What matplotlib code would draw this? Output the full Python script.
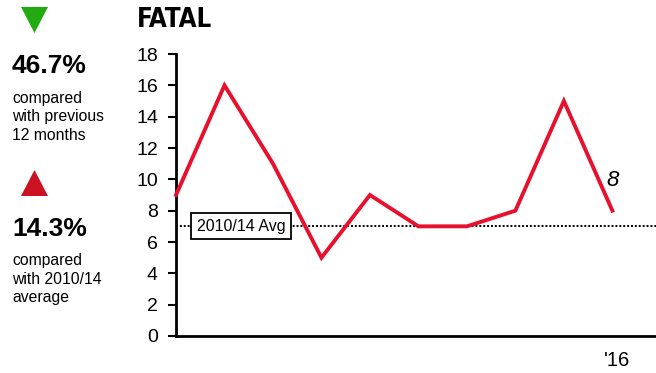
import matplotlib
matplotlib.use("Agg")
import matplotlib.pyplot as plt
from matplotlib.transforms import ScaledTranslation

# Monthly fatal counts (last 10 periods) and reference average
values = [9, 16, 11, 5, 9, 7, 7, 8, 15, 8]
avg_value = 7
avg_label = "2010/14 Avg"
year_label = "'16"
y_ticks = [0, 2, 4, 6, 8, 10, 12, 14, 16, 18]
title = "FATAL"
stat1 = "46.7%"
stat1_text = "compared\nwith previous\n12 months"
stat2 = "14.3%"
stat2_text = "compared\nwith 2010/14\naverage"

W, H = 656, 373
fig = plt.figure(figsize=(W / 100, H / 100), dpi=100)

# main axes: left 176px, bottom 336px, top 54px, right edge of figure
ax = fig.add_axes([176 / W, 1 - 336 / H, (W - 176) / W, (336 - 54) / H])
x = list(range(len(values)))
ax.plot(x, values, color="#e8112d", lw=2.8, solid_joinstyle="miter", clip_on=False, zorder=3)
ax.axhline(avg_value, color="black", lw=1.4, ls=(0, (1, 1.0)), zorder=2)
ax.set_xlim(0, 9.9)
ax.set_ylim(0, 18)
ax.set_yticks(y_ticks)
ax.set_yticklabels([str(t) for t in y_ticks], fontsize=14, fontfamily="Liberation Sans")
ax.set_xticks([len(values) - 1])
ax.set_xticklabels([year_label], fontsize=14.5, fontfamily="Liberation Sans")
ax.tick_params(axis="x", length=0, pad=11)
for lbl in ax.get_xticklabels():
    lbl.set_transform(lbl.get_transform() + ScaledTranslation(5 / 100, 0, fig.dpi_scale_trans))
ax.tick_params(axis="y", length=6, width=1.5, pad=7)
for s in ["top", "right"]:
    ax.spines[s].set_visible(False)
ax.spines["left"].set_linewidth(2)
ax.spines["bottom"].set_linewidth(2)

# average label box
ax.text(0.425, avg_value, avg_label, fontsize=11.5, fontfamily="Liberation Sans",
        va="center", ha="left",
        bbox=dict(boxstyle="square,pad=0.35", fc="white", ec="black", lw=1.3), zorder=4)

# last value label
ax.annotate(str(values[-1]), (x[-1], values[-1]), xytext=(0, 22), textcoords="offset points",
            fontsize=16, fontstyle="italic", fontfamily="Liberation Sans", ha="center", va="center")

# title
fig.text(137 / W, 1 - 20 / H, title, fontsize=18.5, fontweight="heavy",
         fontfamily="DejaVu Sans", fontstretch="condensed", va="center", ha="left")

# left panel indicators
tri = fig.add_axes([0, 0, 130 / W, 1])
tri.set_xlim(0, 130)
tri.set_ylim(H, 0)
tri.axis("off")
tri.fill([21, 48, 34.5], [7, 7, 33], color="#22aa11", lw=0)
tri.fill([21, 48, 34.5], [196, 196, 170], color="#cc1122", lw=0)
tri.text(12, 66, stat1, fontsize=19, fontweight="bold", fontfamily="Liberation Sans", va="center", ha="left")
tri.text(12, 117, stat1_text, fontsize=11.3, fontfamily="Liberation Sans", va="center", ha="left", linespacing=1.3)
tri.text(12, 229, stat2, fontsize=19, fontweight="bold", fontfamily="Liberation Sans", va="center", ha="left")
tri.text(12, 279, stat2_text, fontsize=11.3, fontfamily="Liberation Sans", va="center", ha="left", linespacing=1.3)

fig.savefig("out.png", dpi=100)
